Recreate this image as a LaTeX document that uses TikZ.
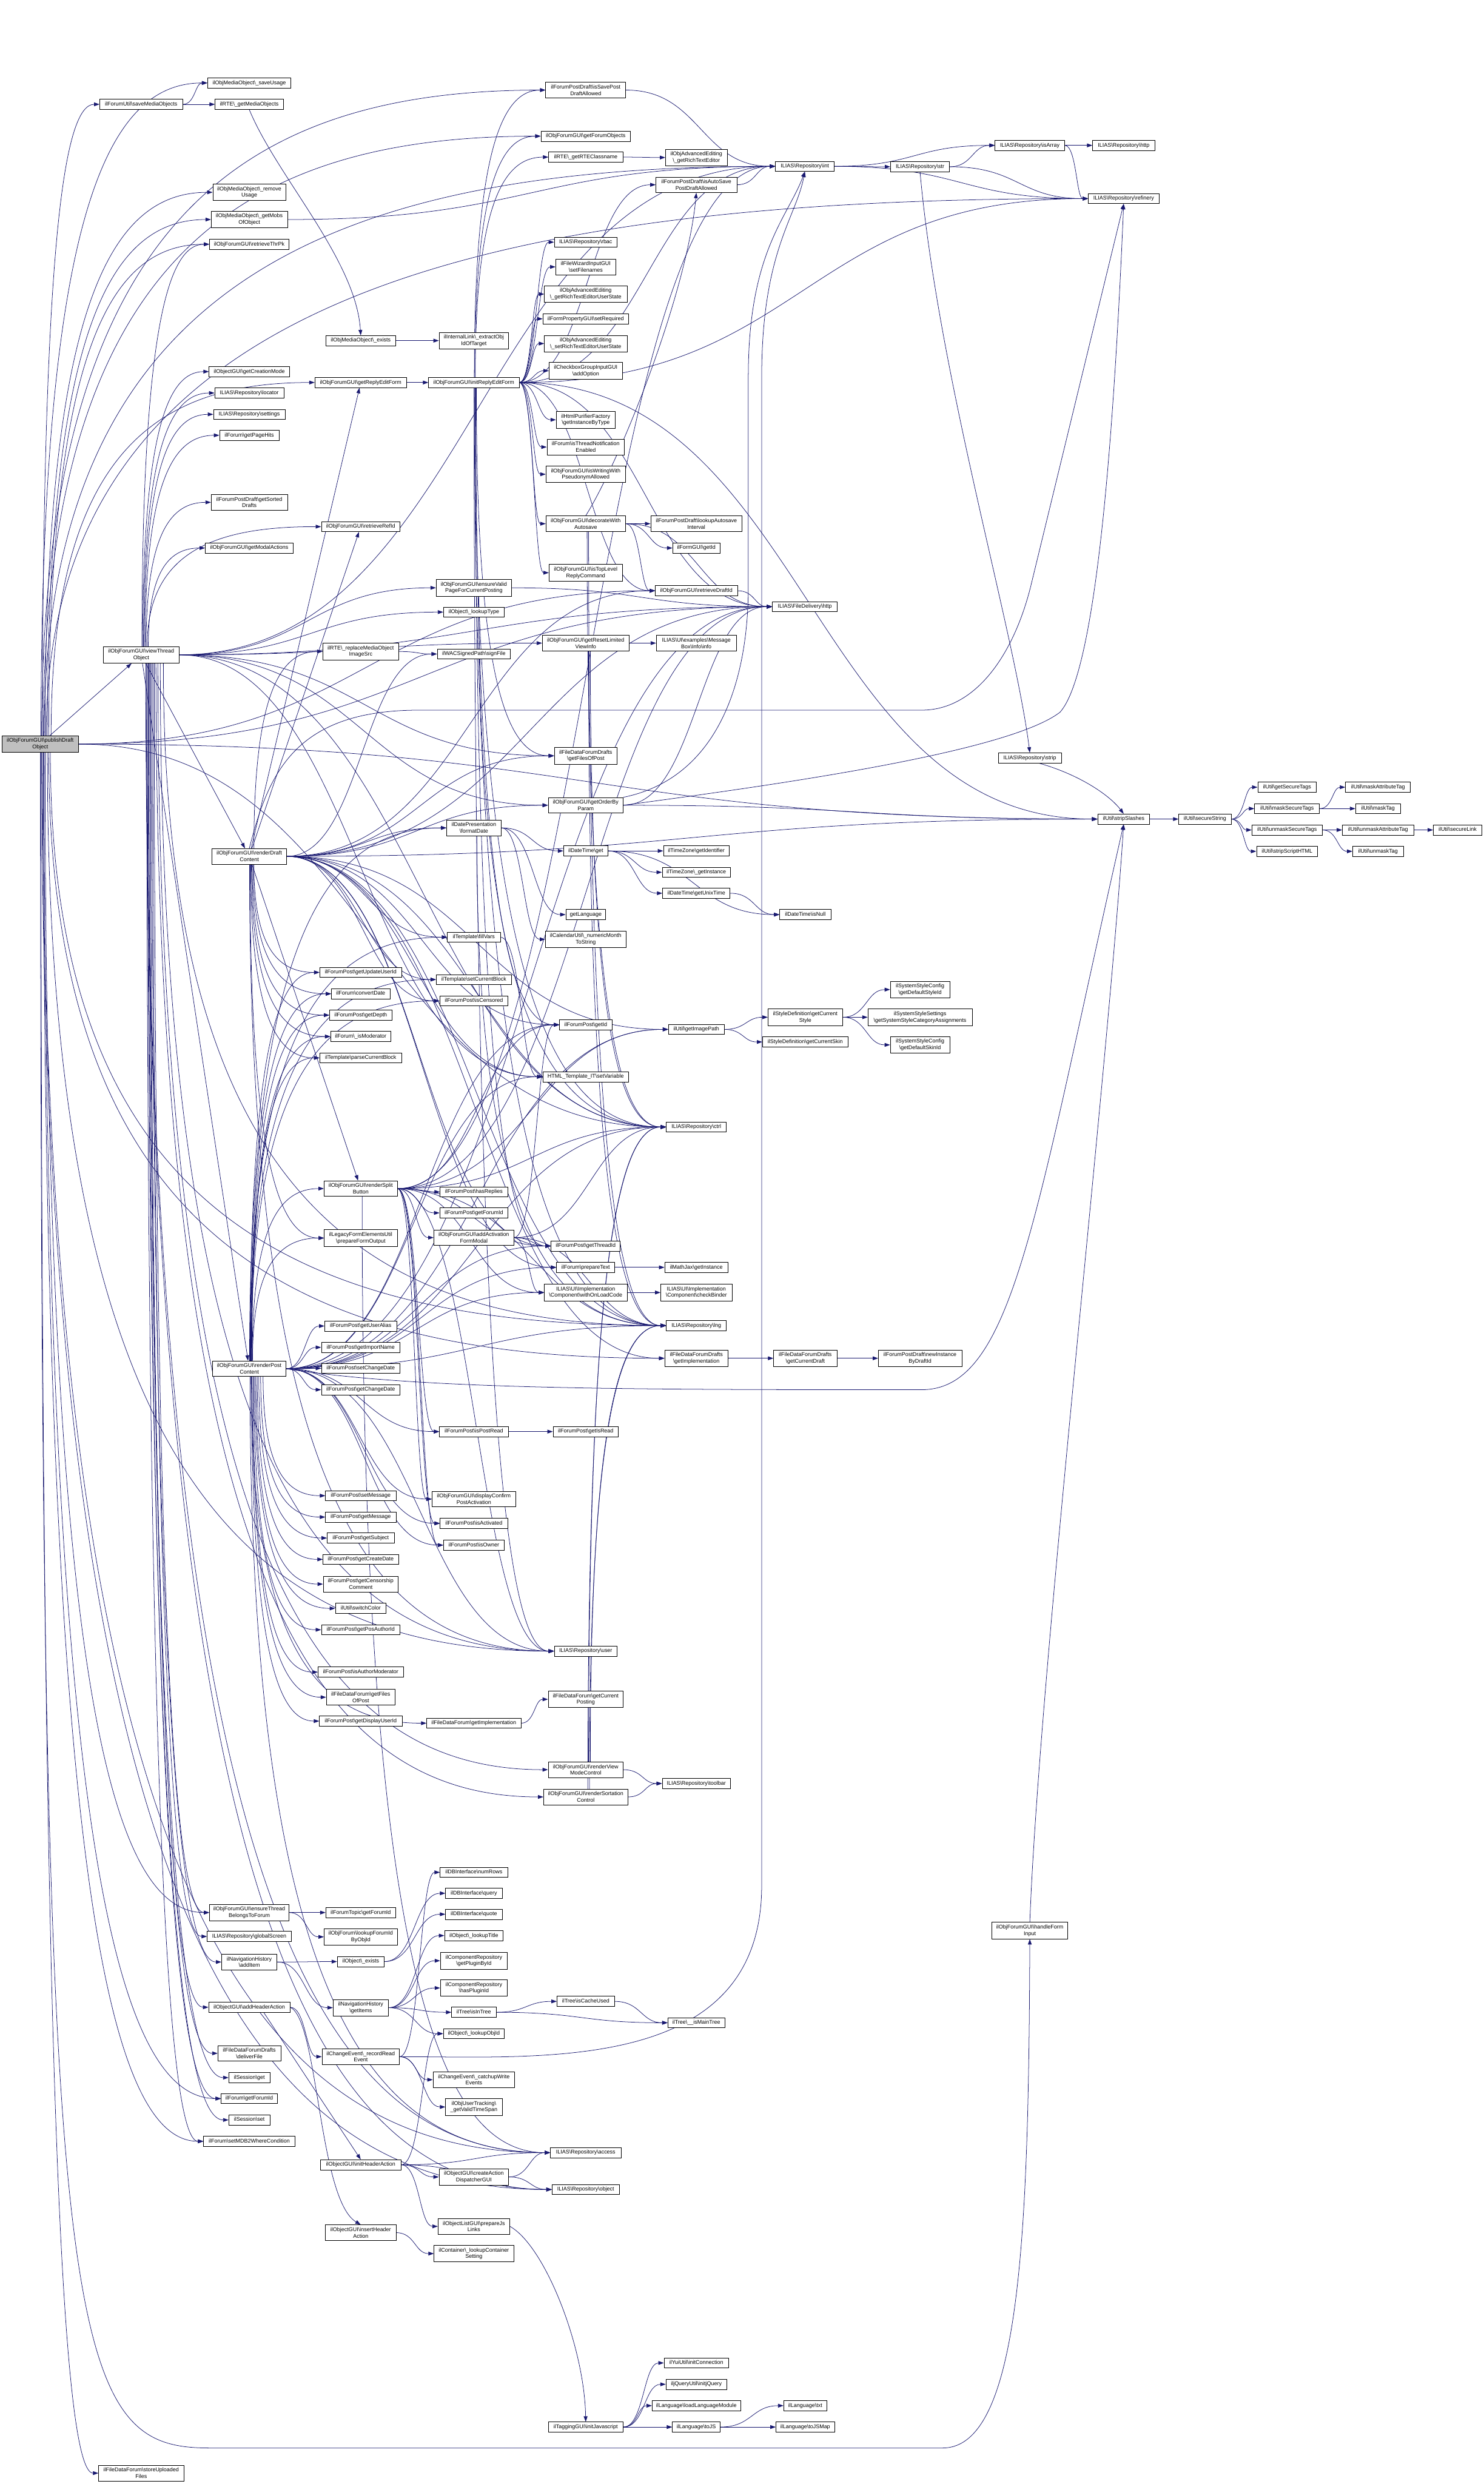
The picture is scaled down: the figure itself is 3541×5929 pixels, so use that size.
\documentclass[tikz,border=0pt]{standalone}
\usepackage{fontspec}
\setmainfont{Liberation Sans}
\usetikzlibrary{arrows.meta,calc,backgrounds}
\definecolor{edgeblue}{HTML}{191970}
\definecolor{rootgray}{HTML}{BFBFBF}
\newcommand\BSL{\textbackslash}
\tikzset{
 boxone/.style={draw=black,line width=1pt,fill=white,font=\fontsize{13}{15.5}\selectfont,inner xsep=4pt,inner ysep=6pt,text height=9.4pt,text depth=2.8pt},
 boxtwo/.style={draw=black,line width=1pt,fill=white,font=\fontsize{13}{15.5}\selectfont,align=center,inner xsep=4pt,inner ysep=6pt},
 edge/.style={draw=edgeblue,line width=1.1pt,-{Triangle[length=13pt,width=9pt]}}
}
\newcommand\Nodeone[5]{\node[boxone,minimum width=#4pt] (#1) at (#2,#3) {#5};}
\newcommand\Nodetwo[6]{\node[boxtwo,minimum width=#4pt] (#1) at (#2,#3) {#5\\#6};}
\newcommand\eR[2]{\draw[edge] (#1.east) .. controls ($(#1.east)!0.5!(#2.west|-#1.east)$) and ($(#2.west)!0.5!(#1.east|-#2.west)$) .. (#2.west);}
\newcommand\eU[3][north]{\draw[edge] (#2.#1) .. controls ($(#2.#1)!0.8!(#2.#1|-#3.west)$) and ($(#3.west)!0.6!(#2.#1|-#3.west)$) .. (#3.west);}
\newcommand\eD[3][south]{\draw[edge] (#2.#1) .. controls ($(#2.#1)!0.8!(#2.#1|-#3.west)$) and ($(#3.west)!0.6!(#2.#1|-#3.west)$) .. (#3.west);}
\newcommand\eS[2]{\draw[edge] (#1) -- (#2);}
\begin{document}
\begin{tikzpicture}[x=1pt,y=-1pt]
\useasboundingbox (0,0) rectangle (3541,5929);
% ---------- nodes ----------
\node[boxtwo,fill=rootgray,minimum width=182pt] (root) at (96,1776) {ilObjForumGUI\BSL publishDraft\\Object};
\Nodeone{saveMO}{337}{249}{198}{ilForumUtil\BSL saveMediaObjects}
\Nodetwo{viewT}{337}{1563}{180}{ilObjForumGUI\BSL viewThread}{Object}
\Nodetwo{storeUF}{337}{5903}{203}{ilFileDataForum\BSL storeUploaded}{Files}
% column 595
\Nodeone{saveUsage}{595}{198}{199}{ilObjMediaObject\BSL\_saveUsage}
\Nodeone{getMO}{595}{249}{163}{ilRTE\BSL\_getMediaObjects}
\Nodetwo{removeUsage}{595}{459}{174}{ilObjMediaObject\BSL\_remove}{Usage}
\Nodetwo{getMobs}{595}{524}{182}{ilObjMediaObject\BSL\_getMobs}{OfObject}
\Nodeone{thrPk}{595}{583}{190}{ilObjForumGUI\BSL retrieveThrPk}
\Nodeone{creationMode}{595}{887}{192}{ilObjectGUI\BSL getCreationMode}
\Nodeone{locator}{595}{938}{165}{ILIAS\BSL Repository\BSL locator}
\Nodeone{settings}{595}{989}{171}{ILIAS\BSL Repository\BSL settings}
\Nodeone{pageHits}{595}{1039}{142}{ilForum\BSL getPageHits}
\Nodetwo{sortedDrafts}{595}{1199}{182}{ilForumPostDraft\BSL getSorted}{Drafts}
\Nodeone{modalActions}{595}{1308}{210}{ilObjForumGUI\BSL getModalActions}
\Nodetwo{draftContent}{595}{2044}{178}{ilObjForumGUI\BSL renderDraft}{Content}
\Nodetwo{postContent}{595}{3267}{175}{ilObjForumGUI\BSL renderPost}{Content}
\Nodetwo{ensureThread}{595}{4565}{190}{ilObjForumGUI\BSL ensureThread}{BelongsToForum}
\Nodeone{globalScreen}{595}{4622}{201}{ILIAS\BSL Repository\BSL globalScreen}
\Nodetwo{navAdd}{595}{4683}{132}{ilNavigationHistory}{\BSL addItem}
\Nodeone{addHeader}{595}{4791}{194}{ilObjectGUI\BSL addHeaderAction}
\Nodetwo{deliverFile}{595}{4901}{150}{ilFileDataForumDrafts}{\BSL deliverFile}
\Nodeone{sessGet}{595}{4959}{98}{ilSession\BSL get}
\Nodeone{frmGetForumId}{595}{5009}{134}{ilForum\BSL getForumId}
\Nodeone{sessSet}{595}{5060}{98}{ilSession\BSL set}
\Nodeone{mdb2}{595}{5111}{218}{ilForum\BSL setMDB2WhereCondition}
% column 861
\Nodeone{mobExists}{861}{813}{167}{ilObjMediaObject\BSL\_exists}
\Nodeone{replyForm}{861}{913}{219}{ilObjForumGUI\BSL getReplyEditForm}
\Nodeone{refId}{861}{1257}{188}{ilObjForumGUI\BSL retrieveRefId}
\Nodetwo{replaceMO}{861}{1555}{181}{ilRTE\BSL\_replaceMediaObject}{ImageSrc}
\Nodeone{getUpdateUserId}{861}{2321}{196}{ilForumPost\BSL getUpdateUserId}
\Nodeone{convertDate}{861}{2372}{140}{ilForum\BSL convertDate}
\Nodeone{getDepth}{861}{2423}{149}{ilForumPost\BSL getDepth}
\Nodeone{isModerator}{861}{2474}{144}{ilForum\BSL\_isModerator}
\Nodeone{parseCB}{861}{2525}{196}{ilTemplate\BSL parseCurrentBlock}
\Nodetwo{splitBtn}{861}{2837}{175}{ilObjForumGUI\BSL renderSplit}{Button}
\Nodetwo{legacyForm}{861}{2955}{174}{ilLegacyFormElementsUtil}{\BSL prepareFormOutput}
\Nodeone{getUserAlias}{861}{3165}{172}{ilForumPost\BSL getUserAlias}
\Nodeone{getImportName}{861}{3216}{188}{ilForumPost\BSL getImportName}
\Nodeone{setChangeDate}{861}{3266}{188}{ilForumPost\BSL setChangeDate}
\Nodeone{getChangeDate}{861}{3317}{188}{ilForumPost\BSL getChangeDate}
\Nodeone{setMessage}{861}{3570}{168}{ilForumPost\BSL setMessage}
\Nodeone{getMessage}{861}{3621}{168}{ilForumPost\BSL getMessage}
\Nodeone{getSubject}{861}{3671}{160}{ilForumPost\BSL getSubject}
\Nodeone{getCreateDate}{861}{3722}{180}{ilForumPost\BSL getCreateDate}
\Nodetwo{censorship}{861}{3781}{179}{ilForumPost\BSL getCensorship}{Comment}
\Nodeone{switchColor}{861}{3839}{121}{ilUtil\BSL switchColor}
\Nodeone{posAuthor}{861}{3890}{188}{ilForumPost\BSL getPosAuthorId}
\Nodeone{authorMod}{861}{3991}{204}{ilForumPost\BSL isAuthorModerator}
\Nodetwo{filesOfPost}{861}{4051}{164}{ilFileDataForum\BSL getFiles}{OfPost}
\Nodeone{displayUser}{861}{4108}{197}{ilForumPost\BSL getDisplayUserId}
\Nodeone{topicForumId}{861}{4565}{167}{ilForumTopic\BSL getForumId}
\Nodetwo{lookupForumId}{861}{4623}{175}{ilObjForum\BSL lookupForumId}{ByObjId}
\Nodeone{objExists}{861}{4682}{112}{ilObject\BSL\_exists}
\Nodetwo{navItems}{861}{4792}{132}{ilNavigationHistory}{\BSL getItems}
\Nodetwo{recordRead}{861}{4909}{185}{ilChangeEvent\BSL\_recordRead}{Event}
\Nodeone{initHeader}{861}{5167}{192}{ilObjectGUI\BSL initHeaderAction}
\Nodetwo{insertHeader}{861}{5329}{168}{ilObjectGUI\BSL insertHeader}{Action}
% column 1131
\Nodetwo{extractObj}{1131}{813}{166}{ilInternalLink\BSL\_extractObj}{IdOfTarget}
\Nodeone{initReply}{1131}{913}{216}{ilObjForumGUI\BSL initReplyEditForm}
\Nodetwo{ensureValid}{1131}{1403}{180}{ilObjForumGUI\BSL ensureValid}{PageForCurrentPosting}
\Nodeone{lookupType}{1131}{1461}{145}{ilObject\BSL\_lookupType}
\Nodeone{signFile}{1131}{1561}{175}{ilWACSignedPath\BSL signFile}
\Nodetwo{formatDate}{1131}{1976}{130}{ilDatePresentation}{\BSL formatDate}
\Nodeone{fillVars}{1131}{2237}{126}{ilTemplate\BSL fillVars}
\Nodeone{setCB}{1131}{2338}{180}{ilTemplate\BSL setCurrentBlock}
\Nodeone{isCensored}{1131}{2389}{163}{ilForumPost\BSL isCensored}
\Nodeone{hasReplies}{1131}{2845}{161}{ilForumPost\BSL hasReplies}
\Nodeone{postForumId}{1131}{2895}{163}{ilForumPost\BSL getForumId}
\Nodetwo{addActivation}{1131}{2954}{191}{ilObjForumGUI\BSL addActivation}{FormModal}
\Nodeone{isPostRead}{1131}{3417}{164}{ilForumPost\BSL isPostRead}
\Nodetwo{displayConfirm}{1131}{3578}{200}{ilObjForumGUI\BSL displayConfirm}{PostActivation}
\Nodeone{isActivated}{1131}{3636}{161}{ilForumPost\BSL isActivated}
\Nodeone{isOwner}{1131}{3688}{145}{ilForumPost\BSL isOwner}
\Nodeone{fdfImpl}{1131}{4113}{225}{ilFileDataForum\BSL getImplementation}
\Nodeone{numRows}{1131}{4469}{161}{ilDBInterface\BSL numRows}
\Nodeone{query}{1131}{4519}{135}{ilDBInterface\BSL query}
\Nodeone{quote}{1131}{4569}{135}{ilDBInterface\BSL quote}
\Nodeone{lookupTitle}{1131}{4620}{140}{ilObject\BSL\_lookupTitle}
\Nodetwo{getPlugin}{1131}{4680}{160}{ilComponentRepository}{\BSL getPluginById}
\Nodetwo{hasPlugin}{1131}{4745}{160}{ilComponentRepository}{\BSL hasPluginId}
\Nodeone{isInTree}{1131}{4803}{106}{ilTree\BSL isInTree}
\Nodeone{lookupObjId}{1131}{4854}{146}{ilObject\BSL\_lookupObjId}
\Nodetwo{catchup}{1131}{4964}{195}{ilChangeEvent\BSL\_catchupWrite}{Events}
\Nodetwo{validTime}{1131}{5029}{135}{ilObjUserTracking\BSL}{\_getValidTimeSpan}
\Nodetwo{createAction}{1131}{5196}{166}{ilObjectGUI\BSL createAction}{DispatcherGUI}
\Nodetwo{prepareJs}{1131}{5314}{171}{ilObjectListGUI\BSL prepareJs}{Links}
\Nodetwo{lookupContainer}{1131}{5379}{190}{ilContainer\BSL\_lookupContainer}{Setting}
% column 1398
\Nodetwo{isSaveDraft}{1398}{215}{191}{ilForumPostDraft\BSL isSavePost}{DraftAllowed}
\Nodeone{forumObjects}{1398}{325}{214}{ilObjForumGUI\BSL getForumObjects}
\Nodeone{rteClass}{1398}{375}{177}{ilRTE\BSL\_getRTEClassname}
\Nodeone{rbac}{1398}{578}{150}{ILIAS\BSL Repository\BSL rbac}
\Nodetwo{fileWizard}{1398}{637}{143}{ilFileWizardInputGUI}{\BSL setFilenames}
\Nodetwo{getRTEUserState}{1398}{702}{197}{ilObjAdvancedEditing}{\BSL\_getRichTextEditorUserState}
\Nodeone{setRequired}{1398}{761}{205}{ilFormPropertyGUI\BSL setRequired}
\Nodetwo{setRTEUserState}{1398}{820}{197}{ilObjAdvancedEditing}{\BSL\_setRichTextEditorUserState}
\Nodetwo{addOption}{1398}{885}{175}{ilCheckboxGroupInputGUI}{\BSL addOption}
\Nodetwo{htmlPurifier}{1398}{1002}{141}{ilHtmlPurifierFactory}{\BSL getInstanceByType}
\Nodetwo{threadNotif}{1398}{1067}{185}{ilForum\BSL isThreadNotification}{Enabled}
\Nodetwo{pseudonym}{1398}{1132}{190}{ilObjForumGUI\BSL isWritingWith}{PseudonymAllowed}
\Nodetwo{decorate}{1398}{1250}{190}{ilObjForumGUI\BSL decorateWith}{Autosave}
\Nodetwo{topLevel}{1398}{1367}{175}{ilObjForumGUI\BSL isTopLevel}{ReplyCommand}
\Nodetwo{resetLimited}{1398}{1535}{207}{ilObjForumGUI\BSL getResetLimited}{ViewInfo}
\Nodetwo{filesOfPostDrafts}{1398}{1804}{150}{ilFileDataForumDrafts}{\BSL getFilesOfPost}
\Nodetwo{orderBy}{1398}{1922}{179}{ilObjForumGUI\BSL getOrderBy}{Param}
\Nodeone{dtGet}{1398}{2031}{106}{ilDateTime\BSL get}
\Nodeone{getLanguage}{1398}{2183}{95}{getLanguage}
\Nodetwo{numericMonth}{1398}{2242}{192}{ilCalendarUtil\BSL\_numericMonth}{ToString}
\Nodeone{postGetId}{1398}{2446}{125}{ilForumPost\BSL getId}
\Nodeone{setVariable}{1398}{2570}{205}{HTML\_Template\_IT\BSL setVariable}
\Nodeone{threadId}{1398}{2974}{165}{ilForumPost\BSL getThreadId}
\Nodeone{prepareText}{1398}{3025}{139}{ilForum\BSL prepareText}
\Nodetwo{withOnLoad}{1398}{3085}{197}{ILIAS\BSL UI\BSL Implementation}{\BSL Component\BSL withOnLoadCode}
\Nodeone{getIsRead}{1398}{3417}{156}{ilForumPost\BSL getIsRead}
\Nodeone{user}{1398}{3941}{150}{ILIAS\BSL Repository\BSL user}
\Nodetwo{currentPosting}{1398}{4056}{179}{ilFileDataForum\BSL getCurrent}{Posting}
\Nodetwo{viewMode}{1398}{4224}{179}{ilObjForumGUI\BSL renderView}{ModeControl}
\Nodetwo{sortation}{1398}{4289}{201}{ilObjForumGUI\BSL renderSortation}{Control}
\Nodeone{cacheUsed}{1398}{4777}{137}{ilTree\BSL isCacheUsed}
\Nodeone{access}{1398}{5138}{169}{ILIAS\BSL Repository\BSL access}
\Nodeone{object}{1398}{5226}{161}{ILIAS\BSL Repository\BSL object}
\Nodeone{tagging}{1398}{5793}{179}{ilTaggingGUI\BSL initJavascript}
% column 1662
\Nodetwo{advRTE}{1662}{376}{147}{ilObjAdvancedEditing}{\BSL\_getRichTextEditor}
\Nodetwo{autoSave}{1662}{441}{193}{ilForumPostDraft\BSL isAutoSave}{PostDraftAllowed}
\Nodetwo{lookupAutosave}{1662}{1250}{218}{ilForumPostDraft\BSL lookupAutosave}{Interval}
\Nodeone{formGetId}{1662}{1308}{113}{ilFormGUI\BSL getId}
\Nodeone{draftId}{1662}{1410}{196}{ilObjForumGUI\BSL retrieveDraftId}
\Nodetwo{msgBox}{1662}{1535}{191}{ILIAS\BSL UI\BSL examples\BSL Message}{Box\BSL Info\BSL info}
\Nodeone{tzId}{1662}{2031}{157}{ilTimeZone\BSL getIdentifier}
\Nodeone{tzInst}{1662}{2082}{163}{ilTimeZone\BSL\_getInstance}
\Nodeone{unixTime}{1662}{2132}{161}{ilDateTime\BSL getUnixTime}
\Nodeone{imagePath}{1662}{2457}{133}{ilUtil\BSL getImagePath}
\Nodeone{ctrl}{1662}{2690}{143}{ILIAS\BSL Repository\BSL ctrl}
\Nodeone{mathJax}{1662}{3025}{151}{ilMathJax\BSL getInstance}
\Nodetwo{checkBinder}{1662}{3085}{170}{ILIAS\BSL UI\BSL Implementation}{\BSL Component\BSL checkBinder}
\Nodeone{lng}{1662}{3164}{143}{ILIAS\BSL Repository\BSL lng}
\Nodetwo{fdfdImpl}{1662}{3242}{151}{ilFileDataForumDrafts}{\BSL getImplementation}
\Nodeone{toolbar}{1662}{4257}{163}{ILIAS\BSL Repository\BSL toolbar}
\Nodeone{mainTree}{1662}{4828}{136}{ilTree\BSL\_\_isMainTree}
\Nodeone{yui}{1662}{5640}{154}{ilYuiUtil\BSL initConnection}
\Nodeone{jquery}{1662}{5691}{145}{iljQueryUtil\BSL initjQuery}
\Nodeone{loadLang}{1662}{5742}{211}{ilLanguage\BSL loadLanguageModule}
\Nodeone{toJS}{1662}{5793}{114}{ilLanguage\BSL toJS}
% column 1921
\Nodeone{int}{1921}{397}{140}{ILIAS\BSL Repository\BSL int}
\Nodeone{http}{1921}{1448}{155}{ILIAS\BSL FileDelivery\BSL http}
\Nodeone{isNull}{1922}{2183}{122}{ilDateTime\BSL isNull}
\Nodetwo{curStyle}{1922}{2428}{178}{ilStyleDefinition\BSL getCurrent}{Style}
\Nodeone{curSkin}{1922}{2487}{204}{ilStyleDefinition\BSL getCurrentSkin}
\Nodetwo{curDraft}{1922}{3242}{151}{ilFileDataForumDrafts}{\BSL getCurrentDraft}
\Nodeone{txt}{1922}{5742}{103}{ilLanguage\BSL txt}
\Nodeone{toJSMap}{1922}{5793}{140}{ilLanguage\BSL toJSMap}
% column 2196
\Nodeone{str}{2196}{398}{141}{ILIAS\BSL Repository\BSL str}
\Nodetwo{defStyle}{2196}{2362}{142}{ilSystemStyleConfig}{\BSL getDefaultStyleId}
\Nodetwo{sysCat}{2196}{2428}{249}{ilSystemStyleSettings}{\BSL getSystemStyleCategoryAssignments}
\Nodetwo{defSkin}{2196}{2494}{142}{ilSystemStyleConfig}{\BSL getDefaultSkinId}
\Nodetwo{newInst}{2196}{3242}{199}{ilForumPostDraft\BSL newInstance}{ByDraftId}
% columns right
\Nodeone{isArray}{2458}{347}{166}{ILIAS\BSL Repository\BSL isArray}
\Nodeone{strip}{2458}{1809}{151}{ILIAS\BSL Repository\BSL strip}
\Nodetwo{handleForm}{2458}{4608}{181}{ilObjForumGUI\BSL handleForm}{Input}
\Nodeone{repoHttp}{2682}{347}{148}{ILIAS\BSL Repository\BSL http}
\Nodeone{refinery}{2682}{474}{169}{ILIAS\BSL Repository\BSL refinery}
\Nodeone{stripSlashes}{2682}{1955}{124}{ilUtil\BSL stripSlashes}
\Nodeone{secureString}{2876}{1955}{125}{ilUtil\BSL secureString}
\Nodeone{getSecureTags}{3072}{1879}{140}{ilUtil\BSL getSecureTags}
\Nodeone{maskSecure}{3072}{1930}{155}{ilUtil\BSL maskSecureTags}
\Nodeone{unmaskSecure}{3072}{1981}{168}{ilUtil\BSL unmaskSecureTags}
\Nodeone{stripScript}{3072}{2032}{146}{ilUtil\BSL stripScriptHTML}
\Nodeone{maskAttr}{3289}{1879}{155}{ilUtil\BSL maskAttributeTag}
\Nodeone{maskTag}{3289}{1930}{107}{ilUtil\BSL maskTag}
\Nodeone{unmaskAttr}{3289}{1981}{170}{ilUtil\BSL unmaskAttributeTag}
\Nodeone{unmaskTag}{3289}{2032}{121}{ilUtil\BSL unmaskTag}
\Nodeone{secureLink}{3479}{1981}{116}{ilUtil\BSL secureLink}
% ---------- edges ----------
\begin{pgfonlayer}{background}
% root
\eU[85]{root}{saveUsage}
\eU[80]{root}{isSaveDraft}
\eU[75]{root}{saveMO}
\eU[70]{root}{forumObjects}
\eU[65]{root}{int}
\eU[60]{root}{removeUsage}
\eU[55]{root}{refinery}
\eU[50]{root}{getMobs}
\eU[45]{root}{thrPk}
\eU[38]{root}{replyForm}
\eS{root}{viewT}
\eR{root}{draftId}
\eR{root}{http}
\eR{root}{ctrl}
\eR{root}{stripSlashes}
\eD[-40]{root}{lng}
\eD[-45]{root}{fdfdImpl}
\eD[-50]{root}{user}
\eD[-60]{root}{ensureThread}
\eD[-65]{root}{frmGetForumId}
\eD[-70]{root}{mdb2}
\eD[-75]{root}{access}
\eD[-80]{root}{object}
\eD[-85]{root}{storeUF}
\draw[edge] (root.-88) .. controls (97,5600) and (150,5843) .. (500,5843) -- (2250,5843) .. controls (2440,5843) and (2455,5300) .. (handleForm.south);
% viewThread
\eU[85]{viewT}{thrPk}
\eU[80]{viewT}{creationMode}
\eU[75]{viewT}{locator}
\eU[70]{viewT}{settings}
\eU[65]{viewT}{pageHits}
\eU[60]{viewT}{sortedDrafts}
\eU[55]{viewT}{refId}
\eU[50]{viewT}{modalActions}
\eR{viewT}{int}
\eR{viewT}{ensureValid}
\eR{viewT}{lookupType}
\eR{viewT}{http}
\eR{viewT}{resetLimited}
\eR{viewT}{filesOfPostDrafts}
\eR{viewT}{orderBy}
\eR{viewT}{setVariable}
\eR{viewT}{ctrl}
\eS{viewT}{draftContent}
\eS{viewT}{postContent}
\eD[-21]{viewT}{lng}
\eD[-24]{viewT}{user}
\eD[-27]{viewT}{viewMode}
\eD[-30]{viewT}{sortation}
\eD[-33]{viewT}{ensureThread}
\eD[-36]{viewT}{globalScreen}
\eD[-39]{viewT}{navAdd}
\eD[-42]{viewT}{addHeader}
\eD[-45]{viewT}{deliverFile}
\eD[-48]{viewT}{sessGet}
\eD[-51]{viewT}{frmGetForumId}
\eD[-54]{viewT}{sessSet}
\eD[-57]{viewT}{mdb2}
\eD[-60]{viewT}{access}
\eD[-62]{viewT}{object}
% top small
\eR{saveMO}{getMO}
\eR{saveMO}{saveUsage}
\draw[edge] (getMO.south) .. controls (660,420) and (850,620) .. (mobExists.north);
\eR{mobExists}{extractObj}
\eR{getMobs}{int}
\eR{replyForm}{initReply}
\eR{rteClass}{advRTE}
\eR{isSaveDraft}{int}
\eR{autoSave}{int}
\eR{int}{str}
\eR{int}{isArray}
\eR{int}{refinery}
\eR{str}{isArray}
\eR{str}{refinery}
\draw[edge] (str.south) .. controls (2240,900) and (2420,1500) .. (strip.north);
\eR{isArray}{repoHttp}
\eR{isArray}{refinery}
\draw[edge] (strip.-30) .. controls (2580,1850) and (2650,1900) .. (stripSlashes.north);
\eR{stripSlashes}{secureString}
\eR{secureString}{getSecureTags}
\eR{secureString}{maskSecure}
\eR{secureString}{unmaskSecure}
\eR{secureString}{stripScript}
\eR{maskSecure}{maskAttr}
\eR{maskSecure}{maskTag}
\eR{unmaskSecure}{unmaskAttr}
\eR{unmaskSecure}{unmaskTag}
\eR{unmaskAttr}{secureLink}
% initReplyEditForm
\eU[85]{initReply}{isSaveDraft}
\eU[80]{initReply}{forumObjects}
\eU[75]{initReply}{rteClass}
\eR{initReply}{rbac}
\eR{initReply}{fileWizard}
\eR{initReply}{getRTEUserState}
\eR{initReply}{setRequired}
\eR{initReply}{setRTEUserState}
\eR{initReply}{addOption}
\eR{initReply}{htmlPurifier}
\eR{initReply}{threadNotif}
\eR{initReply}{pseudonym}
\eR{initReply}{decorate}
\eR{initReply}{topLevel}
\eR{initReply}{autoSave}
\eR{initReply}{int}
\eR{initReply}{http}
\eR{initReply}{draftId}
\eR{initReply}{refinery}
\eR{initReply}{stripSlashes}
\eD[-88]{initReply}{user}
\eD[-85]{initReply}{lng}
\eD[-80]{initReply}{ctrl}
\eD[-75]{initReply}{threadId}
\eD[-70]{initReply}{postGetId}
\eD[-65]{initReply}{filesOfPostDrafts}
% decorate etc.
\eR{decorate}{lookupAutosave}
\eR{decorate}{formGetId}
\eR{decorate}{draftId}
\eR{decorate}{http}
\draw[edge] (decorate.north) .. controls (1480,1100) and (1640,700) .. (autoSave.south);
\eD[-80]{decorate}{ctrl}
\eD[-70]{decorate}{lng}
\eR{draftId}{http}
\eR{ensureValid}{http}
\eD[-60]{ensureValid}{ctrl}
\eR{resetLimited}{msgBox}
\eD[-60]{resetLimited}{ctrl}
\eD[-70]{resetLimited}{lng}
\eR{replaceMO}{signFile}
\eR{orderBy}{stripSlashes}
\eR{orderBy}{http}
\draw[edge] (orderBy.east) .. controls (1800,1880) and (2400,1800) .. (2530,1700) .. controls (2620,1600) and (2660,1000) .. (refinery.south);
\draw[edge] (orderBy.north east) .. controls (1700,1860) and (1786,1650) .. (1786,1400) -- (1786,900) .. controls (1786,600) and (1880,520) .. (int.south);
% renderDraftContent
\eS{draftContent}{replyForm}
\eS{draftContent}{refId}
\eU[60]{draftContent}{replaceMO}
\eR{draftContent}{signFile}
\eR{draftContent}{http}
\eR{draftContent}{draftId}
\draw[edge] (draftContent.north) .. controls (640,1850) and (700,1695) .. (1000,1695) -- (2200,1695) .. controls (2330,1695) and (2420,1560) .. (2460,1400) -- (refinery.south);
\eR{draftContent}{filesOfPostDrafts}
\eR{draftContent}{orderBy}
\eR{draftContent}{formatDate}
\eR{draftContent}{stripSlashes}
\eR{draftContent}{fillVars}
\eR{draftContent}{setCB}
\eR{draftContent}{isCensored}
\eR{draftContent}{postGetId}
\eR{draftContent}{imagePath}
\eR{draftContent}{setVariable}
\eR{draftContent}{ctrl}
\eR{draftContent}{threadId}
\eR{draftContent}{prepareText}
\eR{draftContent}{lng}
\eR{draftContent}{fdfdImpl}
\eD[-60]{draftContent}{getUpdateUserId}
\eD[-65]{draftContent}{convertDate}
\eD[-70]{draftContent}{getDepth}
\eD[-75]{draftContent}{isModerator}
\eD[-80]{draftContent}{parseCB}
\eS{draftContent}{splitBtn}
\eD[-85]{draftContent}{legacyForm}
\eD[-88]{draftContent}{user}
% formatDate, dates, styles
\eR{formatDate}{dtGet}
\eR{formatDate}{getLanguage}
\eR{formatDate}{numericMonth}
\eD[-70]{formatDate}{lng}
\eR{dtGet}{tzId}
\eR{dtGet}{tzInst}
\eR{dtGet}{unixTime}
\eR{dtGet}{isNull}
\eR{unixTime}{isNull}
\eR{imagePath}{curStyle}
\eR{imagePath}{curSkin}
\eR{curStyle}{defStyle}
\eR{curStyle}{sysCat}
\eR{curStyle}{defSkin}
\eR{fillVars}{setVariable}
% renderPostContent
\eR{postContent}{getUserAlias}
\eR{postContent}{getImportName}
\eR{postContent}{setChangeDate}
\eR{postContent}{getChangeDate}
\eR{postContent}{postGetId}
\eR{postContent}{setVariable}
\eR{postContent}{threadId}
\eR{postContent}{prepareText}
\eR{postContent}{withOnLoad}
\eR{postContent}{isPostRead}
\eR{postContent}{displayConfirm}
\eR{postContent}{isActivated}
\eR{postContent}{isOwner}
\eR{postContent}{imagePath}
\eR{postContent}{ctrl}
\eR{postContent}{lng}
\eR{postContent}{user}
\eR{postContent}{http}
\eU[88]{postContent}{formatDate}
\eU[86]{postContent}{fillVars}
\eU[84]{postContent}{getUpdateUserId}
\eU[82]{postContent}{setCB}
\eU[80]{postContent}{convertDate}
\eU[78]{postContent}{isCensored}
\eU[76]{postContent}{getDepth}
\eU[74]{postContent}{isModerator}
\eU[72]{postContent}{parseCB}
\eU[70]{postContent}{splitBtn}
\eU[68]{postContent}{legacyForm}
\eD[-30]{postContent}{setMessage}
\eD[-35]{postContent}{getMessage}
\eD[-40]{postContent}{getSubject}
\eD[-45]{postContent}{getCreateDate}
\eD[-50]{postContent}{censorship}
\eD[-55]{postContent}{switchColor}
\eD[-60]{postContent}{posAuthor}
\eD[-65]{postContent}{authorMod}
\eD[-70]{postContent}{filesOfPost}
\eD[-75]{postContent}{displayUser}
\eD[-78]{postContent}{fdfImpl}
\eD[-85]{postContent}{access}
\draw[edge] (postContent.east) .. controls (1000,3317) and (1500,3317) .. (2200,3317) .. controls (2420,3317) and (2470,2900) .. (stripSlashes.south);
% renderSplitButton
\eR{splitBtn}{hasReplies}
\eR{splitBtn}{postForumId}
\eR{splitBtn}{addActivation}
\eR{splitBtn}{postGetId}
\eR{splitBtn}{threadId}
\eR{splitBtn}{withOnLoad}
\eR{splitBtn}{ctrl}
\eR{splitBtn}{lng}
\eR{splitBtn}{isPostRead}
\eR{splitBtn}{displayConfirm}
\eR{splitBtn}{isActivated}
\eR{splitBtn}{isOwner}
\eR{splitBtn}{user}
\eR{splitBtn}{int}
\eR{splitBtn}{http}
\eR{splitBtn}{imagePath}
\eD[-80]{splitBtn}{access}
\eR{addActivation}{ctrl}
\eR{addActivation}{lng}
\eR{addActivation}{threadId}
\eR{addActivation}{postGetId}
\eR{addActivation}{withOnLoad}
% misc middle
\eR{prepareText}{mathJax}
\eR{withOnLoad}{checkBinder}
\eR{fdfdImpl}{curDraft}
\eR{curDraft}{newInst}
\eR{isPostRead}{getIsRead}
\eR{fdfImpl}{currentPosting}
\eR{viewMode}{toolbar}
\eR{sortation}{toolbar}
\eU[70]{viewMode}{ctrl}
\eU[60]{viewMode}{lng}
\eU[75]{sortation}{ctrl}
\eU[65]{sortation}{lng}
% bottom
\eR{ensureThread}{topicForumId}
\eR{ensureThread}{lookupForumId}
\eR{navAdd}{objExists}
\eR{navAdd}{navItems}
\eR{objExists}{query}
\eR{objExists}{quote}
\eR{navItems}{lookupTitle}
\eR{navItems}{getPlugin}
\eR{navItems}{hasPlugin}
\eR{navItems}{isInTree}
\eR{navItems}{lookupObjId}
\eR{isInTree}{cacheUsed}
\eR{isInTree}{mainTree}
\eR{cacheUsed}{mainTree}
\eR{recordRead}{catchup}
\eR{recordRead}{validTime}
\eR{recordRead}{numRows}
\draw[edge] (recordRead.east) .. controls (1300,4909) and (1818,4950) .. (1818,4500) -- (1818,900) .. controls (1818,600) and (1900,520) .. (int.south);
\draw[edge] (addHeader.-20) -- (initHeader.north);
\draw[edge] (addHeader.east) .. controls (760,4820) and (760,5250) .. (insertHeader.north);
\eR{addHeader}{recordRead}
\eR{initHeader}{createAction}
\eR{initHeader}{prepareJs}
\eR{initHeader}{access}
\eR{initHeader}{object}
\eR{initHeader}{lookupObjId}
\eR{insertHeader}{lookupContainer}
\eR{createAction}{access}
\eR{createAction}{object}
\draw[edge] (prepareJs.east) .. controls (1300,5360) and (1395,5600) .. (tagging.north);
\eR{tagging}{yui}
\eR{tagging}{jquery}
\eR{tagging}{loadLang}
\eR{tagging}{toJS}
\eR{toJS}{txt}
\eR{toJS}{toJSMap}
\draw[edge] (handleForm.north) .. controls (2480,4000) and (2640,2600) .. (stripSlashes.south);
\end{pgfonlayer}
\end{tikzpicture}
\end{document}
